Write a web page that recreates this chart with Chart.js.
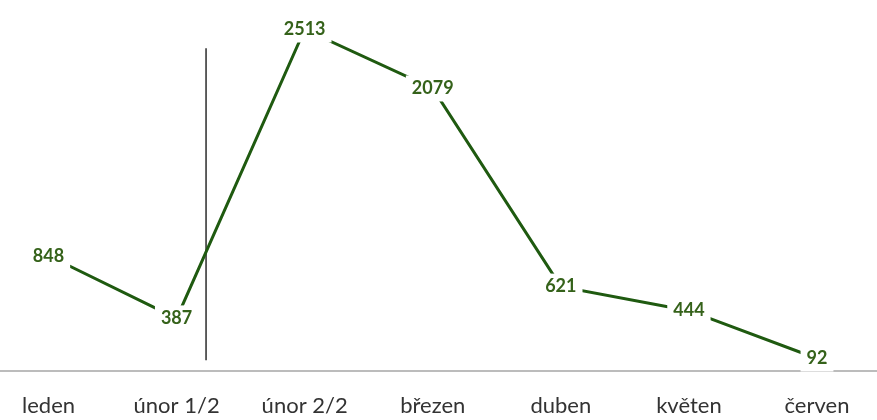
<!DOCTYPE html>
<html>
<head>
<meta charset="utf-8">
<script src="https://cdn.jsdelivr.net/npm/chart.js@4"></script>
<style>
  html, body { margin: 0; padding: 0; background: #fff; }
  #wrap { width: 877px; height: 420px; }
</style>
</head>
<body>
<div id="wrap"><canvas id="myChart" width="877" height="420"></canvas></div>
<script>
// months (unor split in two halves)
const months = ['leden', 'únor 1/2', 'únor 2/2', 'březen', 'duben', 'květen', 'červen'];
const counts = [848, 387, 2513, 2079, 621, 444, 92];

// vertical divider between the two halves of unor
const dividerAt = 1.23;          // category index
const dividerRange = [80, 2375]; // in value units

const lineColor = '#1f5a10';
const labelColor = '#35621a';

// white-boxed value labels drawn on top of the points
const valueLabels = {
    id: 'valueLabels',
    afterDatasetsDraw(chart) {
        const ctx = chart.ctx;
        const meta = chart.getDatasetMeta(0);
        ctx.save();
        ctx.font = 'bold 18px Lato, "Open Sans", sans-serif';
        ctx.textAlign = 'center';
        ctx.textBaseline = 'middle';
        meta.data.forEach((pt, i) => {
            const txt = String(counts[i]);
            const w = ctx.measureText(txt).width;
            ctx.fillStyle = '#fff';
            ctx.fillRect(pt.x - w / 2 - 6, pt.y - 13, w + 12, 26);
            ctx.fillStyle = labelColor;
            ctx.fillText(txt, pt.x, pt.y);
        });
        ctx.restore();
    }
};

// full-width baseline + divider line
const extras = {
    id: 'extras',
    beforeDatasetsDraw(chart) {
        const ctx = chart.ctx;
        const x = chart.scales.x, y = chart.scales.y;
        const y0 = y.getPixelForValue(0);
        ctx.save();
        ctx.strokeStyle = '#a6a6a6';
        ctx.lineWidth = 1.5;
        ctx.beginPath();
        ctx.moveTo(0, y0);
        ctx.lineTo(chart.width, y0);
        ctx.stroke();

        const dx = x.getPixelForValue(1) + (x.getPixelForValue(2) - x.getPixelForValue(1)) * (dividerAt - 1);
        ctx.strokeStyle = '#2b2b2b';
        ctx.lineWidth = 1.5;
        ctx.beginPath();
        ctx.moveTo(dx, y.getPixelForValue(dividerRange[1]));
        ctx.lineTo(dx, y.getPixelForValue(dividerRange[0]));
        ctx.stroke();
        ctx.restore();
    }
};

const ctx = document.getElementById('myChart');
const myChart = new Chart(ctx, {
    type: 'line',
    data: {
        labels: months,
        datasets: [{
            label: 'počet',
            data: counts,
            borderColor: lineColor,
            borderWidth: 3,
            pointRadius: 0,
            tension: 0,
            fill: false
        }]
    },
    options: {
        responsive: false,
        animation: false,
        layout: { padding: { left: 45, right: 60, top: 0, bottom: 0 } },
        plugins: {
            legend: { display: false },
            tooltip: { enabled: false }
        },
        scales: {
            x: {
                offset: false,
                grid: { display: false, drawTicks: false },
                border: { display: false },
                afterFit(scale) { scale.height = 49; },
                ticks: {
                    color: '#333',
                    padding: 22,
                    maxRotation: 0,
                    autoSkip: false,
                    font: { family: 'Lato, "Open Sans", sans-serif', size: 22 }
                }
            },
            y: {
                display: false,
                min: 0,
                max: 2730
            }
        }
    },
    plugins: [extras, valueLabels]
});
</script>
</body>
</html>
